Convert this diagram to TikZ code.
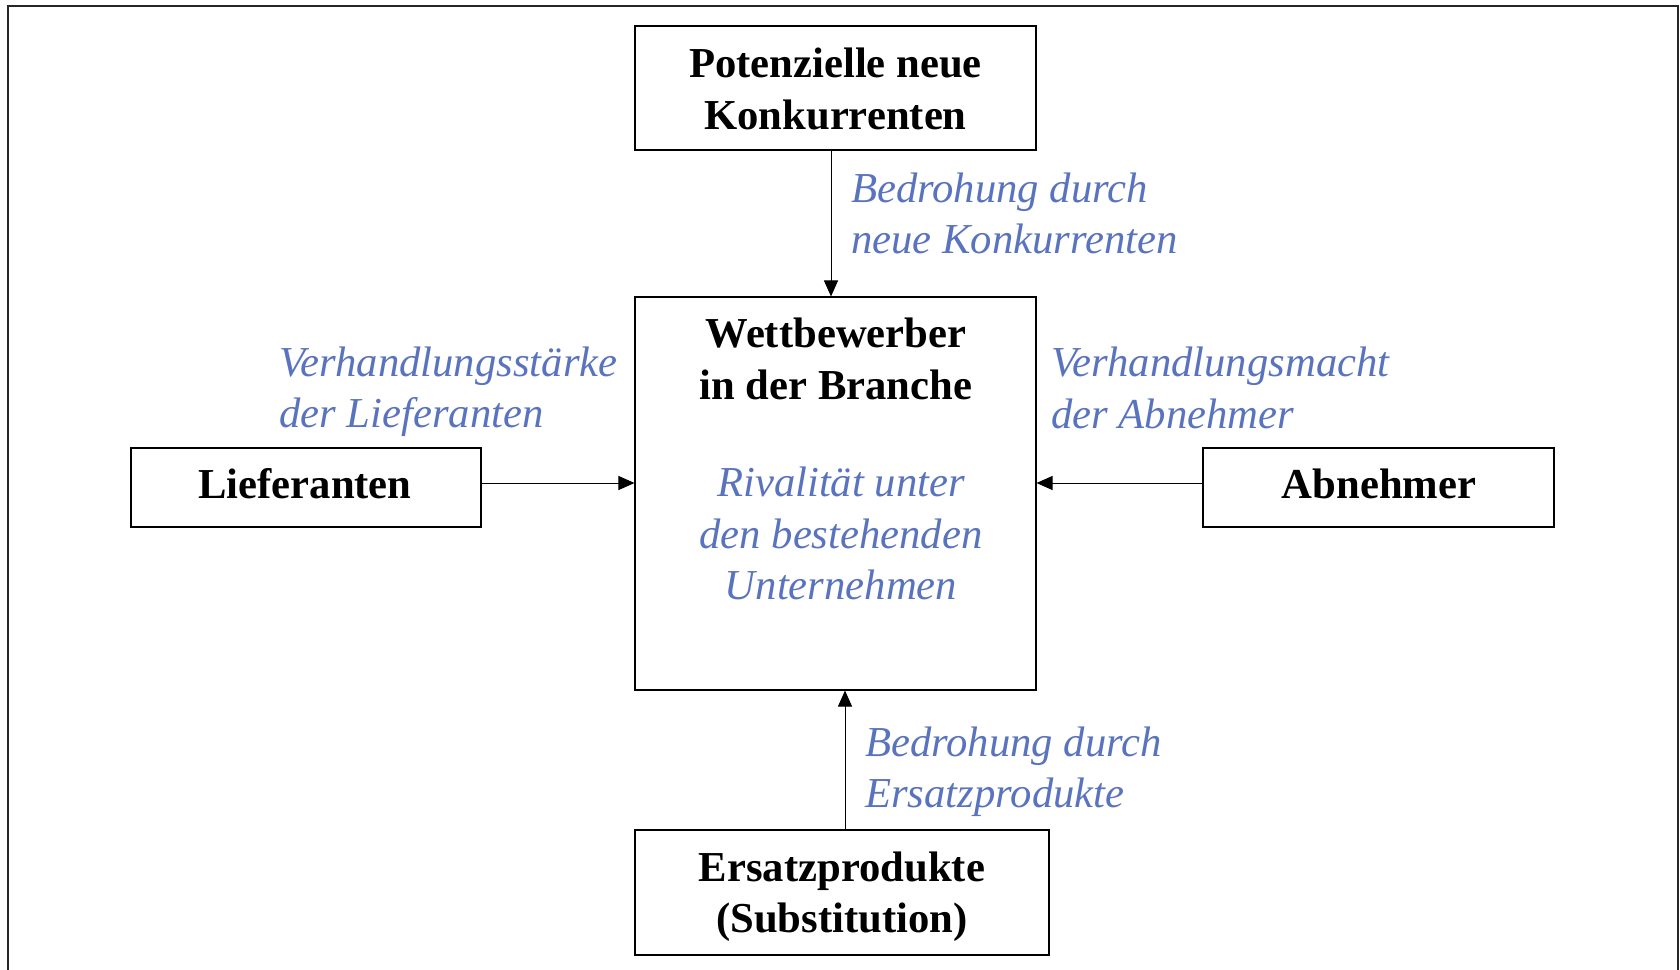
\documentclass[tikz,border=0pt]{standalone}
\usepackage{fontspec}
\setmainfont{Liberation Serif}
\usetikzlibrary{arrows.meta}
\definecolor{lblue}{RGB}{90,115,190}
\tikzset{
  box/.style={draw=black, line width=0.8pt, inner sep=0pt},
  bold/.style={inner sep=0pt, align=center, font=\fontsize{32}{38.5}\selectfont\bfseries},
  lbl/.style={inner sep=0pt, align=left, text=lblue, font=\fontsize{32}{38.5}\selectfont\itshape},
  lblc/.style={inner sep=0pt, align=center, text=lblue, font=\fontsize{32}{38.5}\selectfont\itshape},
  arr/.style={draw=black, line width=0.75pt, -{Triangle[length=12pt,width=10.5pt]}},
}
\begin{document}
\begin{tikzpicture}[x=0.75pt,y=-0.75pt]
\useasboundingbox (0,0) rectangle (1680,970);
\draw[line width=1.5pt, draw=black!85] (7.5,972) -- (7.5,6.5) -- (1678,6.5) -- (1678,972);

\node[box, minimum width=300.75pt, minimum height=93pt] (top) at (835.5,88) {};
\node[bold] (toptxt) at (835.5,89) {Potenzielle neue\\Konkurrenten};
\node[box, minimum width=300.75pt, minimum height=294.75pt] (center) at (835.5,493.5) {};
\node[bold] (wett) at (836,359) {Wettbewerber\\in der Branche};
\node[lblc] (rival) at (841,533.5) {Rivalität unter\\den bestehenden\\Unternehmen};
\node[box, minimum width=262.5pt, minimum height=59.25pt] (lief) at (306,487.5) {};
\node[bold] (lieftxt) at (305,484) {Lieferanten};
\node[box, minimum width=263.25pt, minimum height=59.25pt] (abn) at (1378.5,487.5) {};
\node[bold] (abntxt) at (1379,484) {Abnehmer};
\node[box, minimum width=310.5pt, minimum height=93.75pt] (ers) at (842,892.5) {};
\node[bold] (erstxt) at (842,897) {Ersatzprodukte\\(Substitution)};

\node[lbl, anchor=west] (l1) at (851,213.5) {Bedrohung durch\\neue Konkurrenten};
\node[lbl, anchor=west] (l2) at (279,391.5) {Verhandlungsstärke\\der Lieferanten};
\node[lbl, anchor=west] (l3) at (1051,388) {Verhandlungsmacht\\der Abnehmer};
\node[lbl, anchor=west] (l4) at (865,771.5) {Bedrohung durch\\Ersatzprodukte};

\coordinate (ax) at (831,0);
\coordinate (bx) at (845,0);
\coordinate (hy) at (0,483);
\draw[arr] (top.south -| ax) -- (center.north -| ax);
\draw[arr] (ers.north -| bx) -- (center.south -| bx);
\draw[arr] (lief.east |- hy) -- (center.west |- hy);
\draw[arr] (abn.west |- hy) -- (center.east |- hy);
\end{tikzpicture}
\end{document}
